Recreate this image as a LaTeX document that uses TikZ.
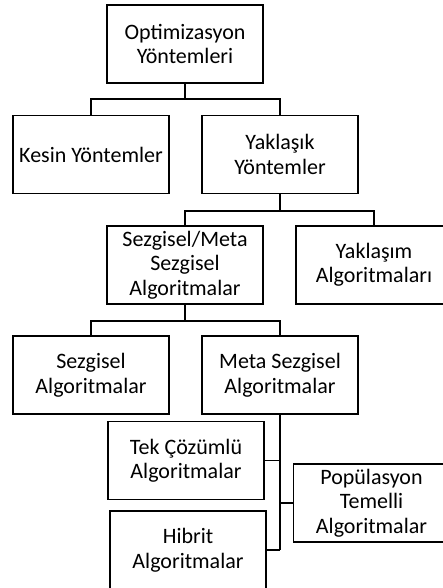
\documentclass[tikz,border=0pt]{standalone}
\usepackage{fontspec}
\setmainfont{Carlito}
\begin{document}
\begin{tikzpicture}[x=1pt,y=-1pt,
  box/.style={draw=black, line width=1.4pt, minimum width=156pt, minimum height=78pt,
    inner sep=0pt, align=center, font={\fontsize{22}{24.5}\selectfont}},
  link/.style={draw=black, line width=1.4pt}]
\useasboundingbox (0,0) rectangle (443,588);
\clip (0,0) rectangle (443,588);

% boxes
\node[box] (top)      at (185,44)    {Optimizasyon\\Yöntemleri};
\node[box] (kesin)    at (91,154.5)  {Kesin Yöntemler};
\node[box] (yak)      at (280,154.5) {Yaklaşık\\Yöntemler};
\node[box] (sm)       at (185,265)   {Sezgisel/Meta\\Sezgisel\\Algoritmalar};
\node[box] (yalg)     at (374,265)   {Yaklaşım\\Algoritmaları};
\node[box] (sezg)     at (91,375)    {Sezgisel\\Algoritmalar};
\node[box] (meta)     at (280,375)   {Meta Sezgisel\\Algoritmalar};
\node[box] (tek)      at (186,460.5) {Tek Çözümlü\\Algoritmalar};
\node[box] (pop)      at (371.5,503) {Popülasyon\\Temelli\\Algoritmalar};
\node[box] (hib)      at (188,550)   {Hibrit\\Algoritmalar};

% bus levels
\coordinate (b1) at (0,99);
\coordinate (b2) at (0,211);
\coordinate (b3) at (0,321);

% connectors
\draw[link] (top.south) -- (top.south |- b1);
\draw[link] (kesin.north) -- (kesin.north |- b1) -| (yak.north);
\draw[link] (yak.south) -- (yak.south |- b2);
\draw[link] (sm.north) -- (sm.north |- b2) -| (yalg.north);
\draw[link] (sm.south) -- (sm.south |- b3);
\draw[link] (sezg.north) -- (sezg.north |- b3) -| (meta.north);
\draw[link] (meta.south) -- (meta.south |- hib.east);
\draw[link] (tek.east) -- (tek.east -| meta.south);
\draw[link] (pop.west) -- (pop.west -| meta.south);
\draw[link] (hib.east) -- (hib.east -| meta.south);
\end{tikzpicture}
\end{document}
